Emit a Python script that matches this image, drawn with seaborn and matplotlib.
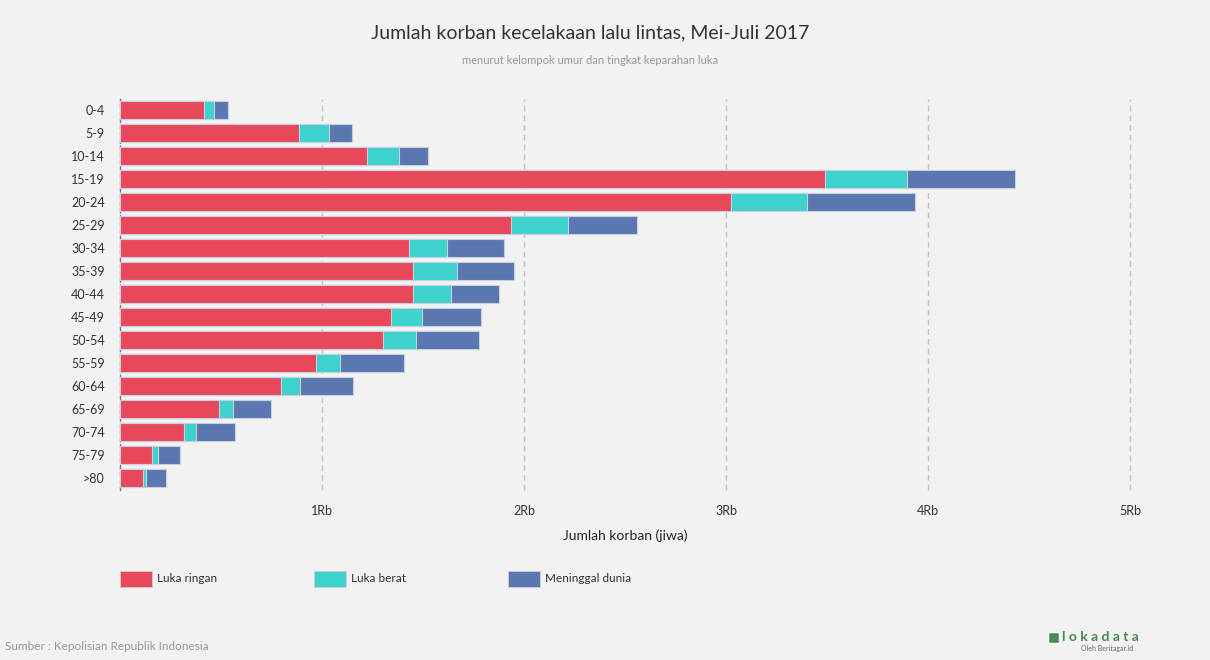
import numpy as np
import pandas as pd
import matplotlib.pyplot as plt
import seaborn as sns
from matplotlib.patches import Rectangle

sns.set_style('white')
plt.rcParams['font.family'] = ['Lato', 'DejaVu Sans']

# data
kelompok_umur = ['0-4', '5-9', '10-14', '15-19', '20-24', '25-29', '30-34', '35-39',
                 '40-44', '45-49', '50-54', '55-59', '60-64', '65-69', '70-74',
                 '75-79', '>80']
luka_ringan = [416, 886, 1223, 3490, 3025, 1936, 1431, 1450,
               1450, 1342, 1302, 970, 797, 490, 317, 158, 114]
luka_berat = [50, 149, 158, 406, 376, 282, 188, 218,
              188, 153, 163, 119, 94, 69, 59, 30, 15]
meninggal = [69, 114, 144, 535, 535, 342, 282, 282,
             238, 292, 312, 317, 262, 188, 193, 109, 99]
x_ticks = [1000, 2000, 3000, 4000, 5000]
x_ticklabels = ['1Rb', '2Rb', '3Rb', '4Rb', '5Rb']

df = pd.DataFrame({'umur': kelompok_umur, 'ringan': luka_ringan,
                   'berat': luka_berat, 'meninggal': meninggal})
df['s_berat'] = df['ringan'] + df['berat']
df['s_total'] = df['s_berat'] + df['meninggal']

c_red = '#e8485a'
c_cyan = '#3ed2cf'
c_blue = '#5b77b0'
bg = '#f2f2f2'

fig = plt.figure(figsize=(12.1, 6.6), dpi=100, facecolor=bg)
ax = fig.add_axes([120 / 1210, 1 - 489.5 / 660, 1010 / 1210, 391 / 660])
ax.set_facecolor(bg)

# stacked bars: draw cumulative totals from back to front
for col, c in [('s_total', c_blue), ('s_berat', c_cyan), ('ringan', c_red)]:
    sns.barplot(data=df, x=col, y='umur', orient='h', color=c, width=0.75,
                saturation=1, edgecolor='#c8d0e0', linewidth=0.8, ax=ax, zorder=3)

ax.set_xlim(0, 5000)
ax.set_ylim(16.5, -0.5)
ax.set_xticks(x_ticks)
ax.set_xticklabels(x_ticklabels)
ax.grid(axis='x', linestyle=(0, (4, 3)), color='#c2c2c2', linewidth=1, zorder=0)
ax.grid(axis='y', visible=False)
for gl in ax.get_xgridlines():
    gl.set_clip_on(False)
for s in ['top', 'right', 'bottom']:
    ax.spines[s].set_visible(False)
ax.spines['left'].set_linestyle((0, (3, 2)))
ax.spines['left'].set_color('#777777')
ax.spines['left'].set_linewidth(1)
ax.tick_params(axis='both', length=0, labelsize=9, colors='#333333')
ax.tick_params(axis='x', pad=11)
ax.tick_params(axis='y', pad=11)
ax.set_ylabel('')
ax.set_xlabel('Jumlah korban (jiwa)', fontsize=10, color='#222222', labelpad=9)

fig.text(590 / 1210, 1 - 33 / 660, 'Jumlah korban kecelakaan lalu lintas, Mei-Juli 2017',
         ha='center', va='center', fontsize=14, color='#333333')
fig.text(590 / 1210, 1 - 61 / 660, 'menurut kelompok umur dan tingkat keparahan luka',
         ha='center', va='center', fontsize=8, color='#999999')

# legend
legend_items = [('Luka ringan', c_red, 120), ('Luka berat', c_cyan, 314),
                ('Meninggal dunia', c_blue, 508)]
for label, c, x0 in legend_items:
    fig.patches.append(Rectangle((x0 / 1210, 1 - 587 / 660), 32 / 1210, 16 / 660,
                                 transform=fig.transFigure, facecolor=c,
                                 edgecolor='#d0d0d0', linewidth=0.6))
    fig.text((x0 + 37) / 1210, 1 - 579 / 660, label, ha='left', va='center',
             fontsize=8.5, color='#333333')

fig.text(5 / 1210, 1 - 647 / 660, 'Sumber : Kepolisian Republik Indonesia',
         ha='left', va='center', fontsize=8.5, color='#999999')
fig.text(1062 / 1210, 1 - 637 / 660, 'l o k a d a t a', ha='left', va='center',
         fontsize=10, color='#4a8a4a', fontweight='bold')
fig.text(1133 / 1210, 1 - 649 / 660, 'Oleh Beritagar.id', ha='right', va='center',
         fontsize=5, color='#666666')
fig.patches.append(Rectangle((1048 / 1210, 1 - 643 / 660), 11 / 1210, 11 / 660,
                             transform=fig.transFigure, facecolor='#4a8a4a'))

fig.savefig('out.png', dpi=100, facecolor=bg)
